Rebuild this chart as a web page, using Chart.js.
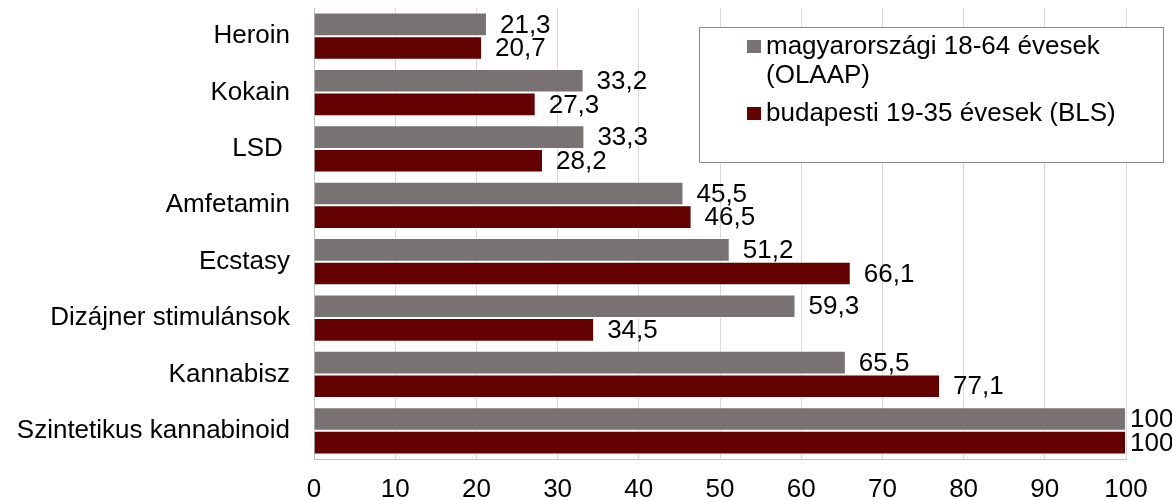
<!DOCTYPE html>
<html>
<head>
<meta charset="utf-8">
<script src="https://cdn.jsdelivr.net/npm/chart.js@4"></script>
<style>
  html, body { margin: 0; padding: 0; background: #fff; }
  #wrap { width: 1172px; height: 500px; position: relative; }
</style>
</head>
<body>
<div id="wrap"><canvas id="drugChart"></canvas></div>
<script>
const categories = ["Heroin", "Kokain", "LSD ", "Amfetamin", "Ecstasy", "Dizájner stimulánsok", "Kannabisz", "Szintetikus kannabinoid"];
const olaapValues = [21.3, 33.2, 33.3, 45.5, 51.2, 59.3, 65.5, 100];
const blsValues = [20.7, 27.3, 28.2, 46.5, 66.1, 34.5, 77.1, 100];
const seriesNames = ["magyarországi 18-64 évesek (OLAAP)", "budapesti 19-35 évesek (BLS)"];
const xTicks = [0, 10, 20, 30, 40, 50, 60, 70, 80, 90, 100];

const FONT = "Arial, 'Liberation Sans', sans-serif";
const FONT_SIZE = 26;

// value labels at the end of each bar, decimal comma
const valueLabels = {
  id: "valueLabels",
  afterDatasetsDraw(chart) {
    const ctx = chart.ctx;
    ctx.save();
    ctx.font = FONT_SIZE + "px " + FONT;
    ctx.fillStyle = "#000";
    ctx.textBaseline = "middle";
    ctx.textAlign = "left";
    chart.data.datasets.forEach((ds, i) => {
      chart.getDatasetMeta(i).data.forEach((bar, j) => {
        const txt = String(ds.data[j]).replace(".", ",");
        const x = Math.min(bar.x + 13, chart.width - 42);
        ctx.fillText(txt, x, bar.y + 1);
      });
    });
    ctx.restore();
  }
};

// boxed legend in the upper right of the plot
const boxLegend = {
  id: "boxLegend",
  afterDraw(chart) {
    const ctx = chart.ctx;
    const left = 699, top = 27, w = 464, h = 135;
    ctx.save();
    ctx.fillStyle = "#fff";
    ctx.fillRect(left, top, w, h);
    ctx.strokeStyle = "#8c8c8c";
    ctx.lineWidth = 1;
    ctx.strokeRect(left + 0.5, top + 0.5, w, h);
    ctx.font = FONT_SIZE + "px " + FONT;
    ctx.textBaseline = "middle";
    ctx.textAlign = "left";
    const ds = chart.data.datasets;
    // first entry wraps onto two lines
    ctx.fillStyle = ds[0].backgroundColor;
    ctx.fillRect(747, 40, 14, 13);
    ctx.fillStyle = "#000";
    ctx.fillText("magyarországi 18-64 évesek", 766, 47);
    ctx.fillText("(OLAAP)", 766, 76);
    ctx.fillStyle = ds[1].backgroundColor;
    ctx.fillRect(747, 107, 14, 13);
    ctx.fillStyle = "#000";
    ctx.fillText(ds[1].label, 766, 114);
    ctx.restore();
  }
};

const ctx = document.getElementById("drugChart").getContext("2d");
new Chart(ctx, {
  type: "bar",
  data: {
    labels: categories,
    datasets: [
      {
        label: seriesNames[0],
        data: olaapValues,
        backgroundColor: "#787372",
        borderColor: "rgba(255,255,255,0.7)",
        borderWidth: 1,
        categoryPercentage: 0.84,
        barPercentage: 1.0
      },
      {
        label: seriesNames[1],
        data: blsValues,
        backgroundColor: "#630000",
        borderColor: "rgba(255,255,255,0.7)",
        borderWidth: 1,
        categoryPercentage: 0.84,
        barPercentage: 1.0
      }
    ]
  },
  options: {
    indexAxis: "y",
    responsive: true,
    maintainAspectRatio: false,
    animation: false,
    layout: { padding: { top: 8, right: 46, left: 0, bottom: 0 } },
    scales: {
      x: {
        min: 0,
        max: 100,
        afterBuildTicks(scale) {
          scale.ticks = xTicks.map(v => ({ value: v }));
        },
        afterFit(scale) { scale.height = 41; },
        grid: { color: "#d9d9d9", drawTicks: false },
        border: { display: true, color: "#bfbfbf" },
        ticks: {
          color: "#000",
          padding: 15,
          maxRotation: 0,
          font: { family: FONT, size: FONT_SIZE }
        }
      },
      y: {
        afterFit(scale) {
          scale.width = 314;
          // no extra room above/below for the first and last labels
          scale.paddingTop = 0;
          scale.paddingBottom = 0;
        },
        grid: { display: false, drawTicks: false },
        border: { display: true, color: "#bfbfbf" },
        ticks: {
          color: "#000",
          padding: 24,
          font: { family: FONT, size: FONT_SIZE }
        }
      }
    },
    plugins: {
      legend: { display: false },
      tooltip: { enabled: false }
    }
  },
  plugins: [valueLabels, boxLegend]
});
</script>
</body>
</html>
